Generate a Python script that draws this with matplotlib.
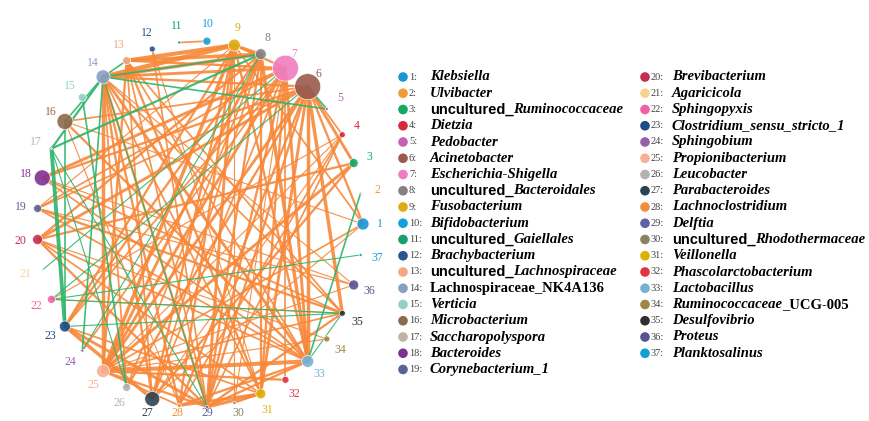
import numpy as np
import matplotlib
matplotlib.use('Agg')
import matplotlib.pyplot as plt

# genera / OTU names, segments between '*' are set in italics
taxa = ["*Klebsiella*", "*Ulvibacter*", "uncultured_*Ruminococcaceae*", "*Dietzia*",
        "*Pedobacter*", "*Acinetobacter*", "*Escherichia-Shigella*",
        "uncultured_*Bacteroidales*", "*Fusobacterium*", "*Bifidobacterium*",
        "uncultured_*Gaiellales*", "*Brachybacterium*", "uncultured_*Lachnospiraceae*",
        "Lachnospiraceae_NK4A136", "*Verticia*", "*Microbacterium*",
        "*Saccharopolyspora*", "*Bacteroides*", "*Corynebacterium_1*",
        "*Brevibacterium*", "*Agaricicola*", "*Sphingopyxis*",
        "*Clostridium_sensu_stricto_1*", "*Sphingobium*", "*Propionibacterium*",
        "*Leucobacter*", "*Parabacteroides*", "*Lachnoclostridium*", "*Delftia*",
        "uncultured_*Rhodothermaceae*", "*Veillonella*", "*Phascolarctobacterium*",
        "*Lactobacillus*", "*Ruminococcaceae*_UCG-005", "*Desulfovibrio*",
        "*Proteus*", "*Planktosalinus*"]

node_colors = ["#1b96d2", "#f39a3a", "#14a862", "#d8283c", "#c462b8", "#9a5a4c",
               "#f07cc0", "#878080", "#dcac12", "#14a0d8", "#14a070", "#2a5494",
               "#f2a684", "#8c9ec2", "#92d2c2", "#8c6a4c", "#c2b2a0", "#7e3290",
               "#5c6296", "#c42e52", "#f8d292", "#f062a4", "#1c4c84", "#9462a4",
               "#f8b096", "#b2b2b2", "#2c4252", "#f08e40", "#6262a2", "#8a8262",
               "#deb000", "#e03444", "#74b2d4", "#a28444", "#303030", "#545494",
               "#14a0d4"]

# node radius (px), proportional to relative abundance
node_size = [6, 1, 4.5, 3, 1.5, 13, 13, 5.5, 6, 4, 1.5, 3, 4, 7, 4, 8, 1, 8, 4,
             5, 1, 4, 5.5, 1.5, 6.5, 4, 7.5, 2, 1.5, 1.5, 5, 3.5, 6, 3, 3, 5, 1.5]

# positive correlations (node a, node b, weight)
pos_edges = [(10, 11, 1.5), (9, 14, 4), (9, 13, 3.5), (8, 13, 3), (8, 14, 3),
             (7, 14, 2.5), (7, 13, 2), (6, 14, 2), (9, 8, 2.5), (9, 7, 2),
             (9, 25, 3), (9, 29, 2.5), (9, 28, 2), (9, 33, 2), (9, 23, 2), (9, 19, 1),
             (8, 25, 2.5), (8, 33, 3), (8, 31, 2), (8, 27, 1.5), (8, 20, 2),
             (7, 25, 2.5), (7, 33, 2.5), (7, 32, 1.5), (7, 29, 2), (7, 18, 2.5),
             (7, 23, 1.5), (6, 35, 3), (6, 3, 2.5), (6, 4, 1.5), (6, 33, 3),
             (6, 31, 2.5), (6, 29, 2), (6, 20, 2.5), (6, 19, 1.5), (6, 1, 2),
             (6, 26, 2), (14, 25, 3), (14, 29, 2), (14, 27, 2), (14, 35, 1.5),
             (14, 33, 2.5), (14, 31, 1.5), (14, 26, 1.5), (13, 25, 2), (13, 31, 2),
             (13, 29, 1.5), (13, 33, 1.5), (12, 29, 1.5), (16, 33, 2), (16, 28, 1),
             (19, 33, 1.5), (19, 35, 2), (20, 29, 2), (20, 33, 1.5), (18, 6, 2),
             (18, 36, 1), (23, 27, 3), (23, 29, 2.5), (23, 31, 1.5), (25, 33, 3.5),
             (25, 32, 2), (25, 29, 2), (25, 28, 1.5), (25, 35, 1.5), (25, 3, 2.5),
             (25, 1, 1.5), (25, 4, 1), (28, 31, 2.5), (29, 31, 3), (30, 31, 1.5),
             (28, 33, 2), (29, 33, 2), (30, 9, 1), (30, 7, 1), (35, 29, 2),
             (35, 22, 1), (36, 14, 1), (36, 19, 1), (4, 28, 1.5), (4, 29, 1.5),
             (34, 25, 1), (34, 20, 1), (26, 8, 1.5), (27, 4, 1), (1, 9, 1.5),
             (1, 16, 1), (3, 27, 2), (16, 6, 1.5), (24, 7, 1.5),
             (9, 27, 2), (8, 29, 2), (7, 31, 2), (6, 28, 2), (6, 25, 2.5),
             (14, 28, 2), (13, 27, 1.5), (20, 31, 1.5), (19, 7, 1.5), (18, 33, 1.5),
             (23, 8, 2), (3, 20, 2), (4, 22, 1), (1, 27, 1), (35, 18, 1.5),
             (36, 25, 1), (12, 31, 1), (13, 35, 1.5), (7, 27, 1.5)]

# negative correlations
neg_edges = [(17, 23, 3.5), (17, 14, 2), (17, 8, 2), (17, 26, 1), (17, 29, 1),
             (14, 5, 1.5), (14, 8, 1.5), (15, 26, 1.5), (16, 14, 1.5), (2, 33, 1.5),
             (37, 22, 1), (22, 35, 1), (23, 35, 1), (22, 6, 1), (24, 8, 1),
             (24, 14, 1.5), (21, 7, 1), (29, 14, 1), (6, 5, 1.5), (13, 14, 1.5),
             (33, 35, 1), (23, 16, 1.5)]

n = len(taxa)
cx, cy, rx, ry = 200, 224, 163, 183
theta = 2 * np.pi * np.arange(n) / n
xs = cx + rx * np.cos(theta)
ys = cy - ry * np.sin(theta)

fig = plt.figure(figsize=(8.7, 4.21), dpi=100)
ax = fig.add_axes([0, 0, 1, 1])
ax.set_xlim(0, 870)
ax.set_ylim(421, 0)
ax.axis('off')

px = 0.72  # points per pixel at 100 dpi
for a, b, w in pos_edges:
    ax.plot([xs[a - 1], xs[b - 1]], [ys[a - 1], ys[b - 1]], color='#f7883a',
            lw=w * px * 1.15, alpha=0.9, solid_capstyle='round', zorder=1)
for a, b, w in neg_edges:
    ax.plot([xs[a - 1], xs[b - 1]], [ys[a - 1], ys[b - 1]], color='#2db46a',
            lw=w * px * 1.1, alpha=0.9, solid_capstyle='round', zorder=2)

sizes = (2 * np.array(node_size) * px) ** 2
ax.scatter(xs, ys, s=sizes, c=node_colors, edgecolors='white', linewidths=0.5,
           alpha=0.9, zorder=3)

for i in range(n):
    lx = cx + (rx + 17) * np.cos(theta[i])
    ly = min(cy - (ry + 17) * np.sin(theta[i]), 413)
    ax.text(lx, ly, str(i + 1), color=node_colors[i], fontsize=8.5,
            family='Liberation Serif', ha='center', va='center', zorder=4)

# legend in two columns
col_x = [403, 645]
row0, dy = 77, 16.25
for i, name in enumerate(taxa):
    col = 0 if i < 19 else 1
    row = i if i < 19 else i - 19
    mx, my = col_x[col], row0 + row * dy
    ax.scatter([mx], [my], s=48, c=node_colors[i], edgecolors='none', zorder=3)
    ax.text(mx + 6, my, f"{i + 1}:", fontsize=7.5, family='Liberation Serif',
            color='#444444', ha='left', va='center')
    parts = name.split('*')
    prev = None
    for k, seg in enumerate(parts):
        if not seg:
            continue
        italic = (k % 2 == 1)
        if seg.startswith('uncultured'):
            fam, style = 'Liberation Sans', 'normal'
        else:
            fam, style = 'Liberation Serif', 'italic' if italic else 'normal'
        if prev is None:
            prev = ax.text(mx + 27, my, seg, fontsize=10.5, family=fam,
                           style=style, weight='bold', ha='left', va='center')
        else:
            prev = ax.annotate(seg, xy=(1, 0.5), xycoords=prev, fontsize=10.5,
                               family=fam, style=style, weight='bold',
                               ha='left', va='center')

fig.savefig('out.png', dpi=100)
